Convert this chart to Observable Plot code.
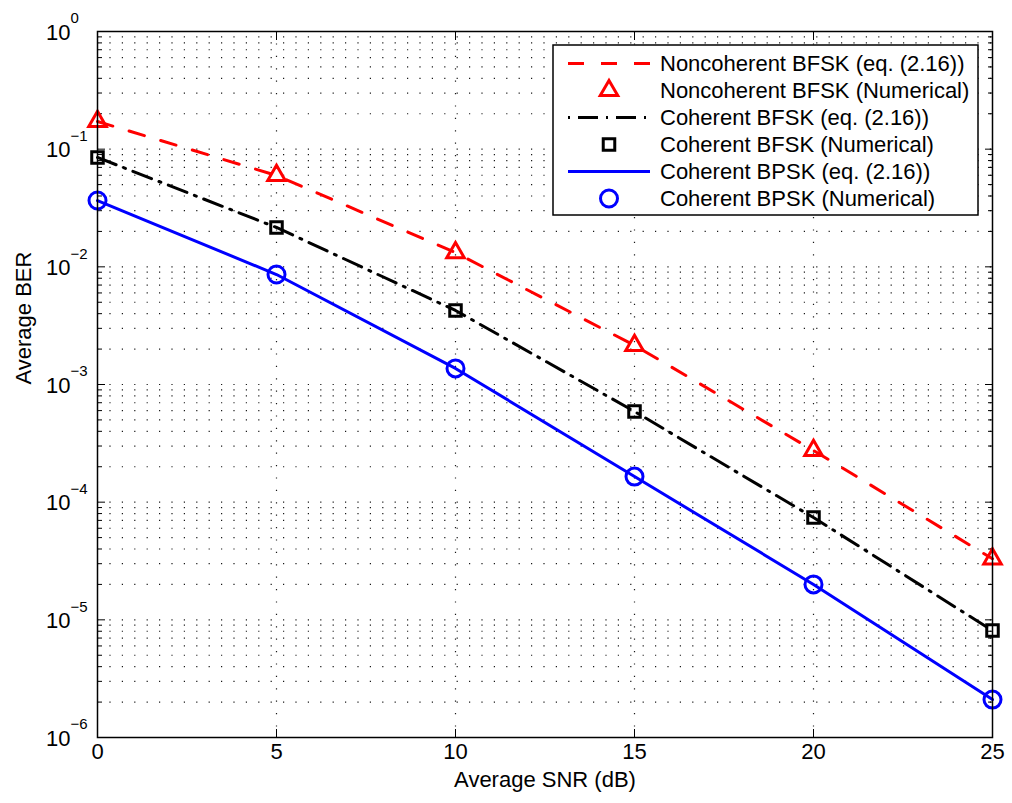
<!DOCTYPE html>
<html>
<head>
<meta charset="utf-8">
<script src="https://cdn.jsdelivr.net/npm/d3@7"></script>
<script src="https://cdn.jsdelivr.net/npm/@observablehq/plot@0.6"></script>
<style>
  html, body { margin: 0; padding: 0; background: white; }
  svg { display: block; }
</style>
</head>
<body>
<div id="chart"></div>
<script>
// ---- data ----
const snr = [0, 5, 10, 15, 20, 25];
const ncBfsk = [0.172, 0.0598, 0.0132, 0.00215, 2.75e-4, 3.3e-5];
const cBfsk = [0.085, 0.0216, 0.00426, 5.9e-4, 7.4e-5, 8.1e-6];
const cBpsk = [0.0366, 0.0086, 0.00137, 1.65e-4, 2.0e-5, 2.1e-6];

const xTicks = [0, 5, 10, 15, 20, 25];
const xTickLabels = ["0", "5", "10", "15", "20", "25"];
const yMajor = [1, 1e-1, 1e-2, 1e-3, 1e-4, 1e-5, 1e-6];
const yExponents = ["0", "\u22121", "\u22122", "\u22123", "\u22124", "\u22125", "\u22126"];
const legendLabels = [
  "Noncoherent BFSK (eq. (2.16))",
  "Noncoherent BFSK (Numerical)",
  "Coherent BFSK (eq. (2.16))",
  "Coherent BFSK (Numerical)",
  "Coherent BPSK (eq. (2.16))",
  "Coherent BPSK (Numerical)"
];

const yMinor = [];
for (let e = -6; e < 0; e++) for (let m = 2; m <= 9; m++) yMinor.push(m * Math.pow(10, e));
const yGrid = yMajor.filter(v => v > 1e-6 && v < 1).concat(yMinor);
const xGrid = [5, 10, 15, 20];

const tbl = (ys) => snr.map((x, i) => ({x, y: ys[i]}));
const FONT = "'Liberation Sans', Arial, Helvetica, sans-serif";
const FS = 22;
const gridStyle = {stroke: "black", strokeWidth: 1.2, strokeDasharray: "1.2,11.2", strokeOpacity: 0.9};

const chart = Plot.plot({
  width: 1012,
  height: 803,
  marginLeft: 97,
  marginRight: 20,
  marginTop: 31,
  marginBottom: 66,
  style: {fontFamily: FONT, fontSize: FS + "px", background: "white", color: "black", overflow: "visible"},
  x: {domain: [0, 25]},
  y: {type: "log", domain: [1e-6, 1]},
  marks: [
    Plot.ruleY(yGrid, gridStyle),
    Plot.ruleX(xGrid, gridStyle),
    Plot.axisX(xTicks, {anchor: "bottom", tickSize: -8, tickFormat: () => "", label: null}),
    Plot.axisX(xTicks, {anchor: "top", tickSize: -8, tickFormat: () => "", label: null}),
    Plot.axisY(yMajor, {anchor: "left", tickSize: -8, tickFormat: () => "", label: null}),
    Plot.axisY(yMajor, {anchor: "right", tickSize: -8, tickFormat: () => "", label: null}),
    Plot.axisY(yMinor, {anchor: "left", tickSize: -5, tickFormat: () => "", label: null}),
    Plot.axisY(yMinor, {anchor: "right", tickSize: -5, tickFormat: () => "", label: null}),
    // x tick labels
    Plot.text(xTicks, {x: d => d, text: (d, i) => xTickLabels[i], frameAnchor: "bottom", dy: 21, fontSize: FS}),
    // y tick labels: base and exponent
    Plot.text(yMajor, {y: d => d, text: () => "10", frameAnchor: "left", textAnchor: "end", dx: -27, dy: 1, fontSize: FS}),
    Plot.text(yMajor, {y: d => d, text: (d, i) => yExponents[i], frameAnchor: "left", textAnchor: "start", dx: -27, dy: -13, fontSize: 15}),
    // axis titles
    Plot.text(["Average SNR (dB)"], {frameAnchor: "bottom", text: d => d, dy: 49, fontSize: FS}),
    Plot.text(["Average BER"], {frameAnchor: "left", text: d => d, rotate: -90, dx: -74, fontSize: FS}),
    // series
    Plot.line(tbl(ncBfsk), {x: "x", y: "y", stroke: "#ff0000", strokeWidth: 3, strokeDasharray: "16,17"}),
    Plot.dot(tbl(ncBfsk), {x: "x", y: "y", symbol: "triangle", r: 6.5, stroke: "#ff0000", strokeWidth: 3, fill: "none"}),
    Plot.line(tbl(cBfsk), {x: "x", y: "y", stroke: "black", strokeWidth: 3, strokeDasharray: "20,8,2,8"}),
    Plot.dot(tbl(cBfsk), {x: "x", y: "y", symbol: "square", r: 6.5, stroke: "black", strokeWidth: 3, fill: "none"}),
    Plot.line(tbl(cBpsk), {x: "x", y: "y", stroke: "#0000ff", strokeWidth: 3}),
    Plot.dot(tbl(cBpsk), {x: "x", y: "y", symbol: "circle", r: 8.5, stroke: "#0000ff", strokeWidth: 3, fill: "none"}),
    Plot.frame({stroke: "black", strokeWidth: 1.5})
  ]
});

// ---- legend (drawn onto the same svg) ----
const svg = d3.select(chart);
const lg = svg.append("g").attr("font-family", FONT).attr("font-size", FS).attr("text-anchor", "start");
lg.append("rect").attr("x", 553).attr("y", 45).attr("width", 425).attr("height", 170)
  .attr("fill", "white").attr("stroke", "black").attr("stroke-width", 1.5);
const styles = [
  {type: "line", stroke: "#ff0000", dash: "16,17"},
  {type: "sym", stroke: "#ff0000", sym: d3.symbolTriangle, size: Math.PI * 6.5 * 6.5},
  {type: "line", stroke: "black", dash: "2,8,20,8"},
  {type: "sym", stroke: "black", sym: d3.symbolSquare, size: Math.PI * 6.5 * 6.5},
  {type: "line", stroke: "#0000ff", dash: null},
  {type: "sym", stroke: "#0000ff", sym: d3.symbolCircle, size: Math.PI * 8.5 * 8.5}
];
legendLabels.forEach((lab, i) => {
  const cy = 63.5 + i * 27;
  const s = styles[i];
  if (s.type === "line") {
    const l = lg.append("line").attr("x1", 568).attr("x2", 650).attr("y1", cy).attr("y2", cy)
      .attr("stroke", s.stroke).attr("stroke-width", 3);
    if (s.dash) l.attr("stroke-dasharray", s.dash);
  } else {
    lg.append("path").attr("d", d3.symbol(s.sym, s.size)())
      .attr("transform", `translate(609,${cy})`)
      .attr("fill", "none").attr("stroke", s.stroke).attr("stroke-width", 3);
  }
  lg.append("text").attr("x", 660).attr("y", cy).attr("dy", "0.35em").text(lab);
});

document.getElementById("chart").appendChild(chart);
</script>
</body>
</html>
